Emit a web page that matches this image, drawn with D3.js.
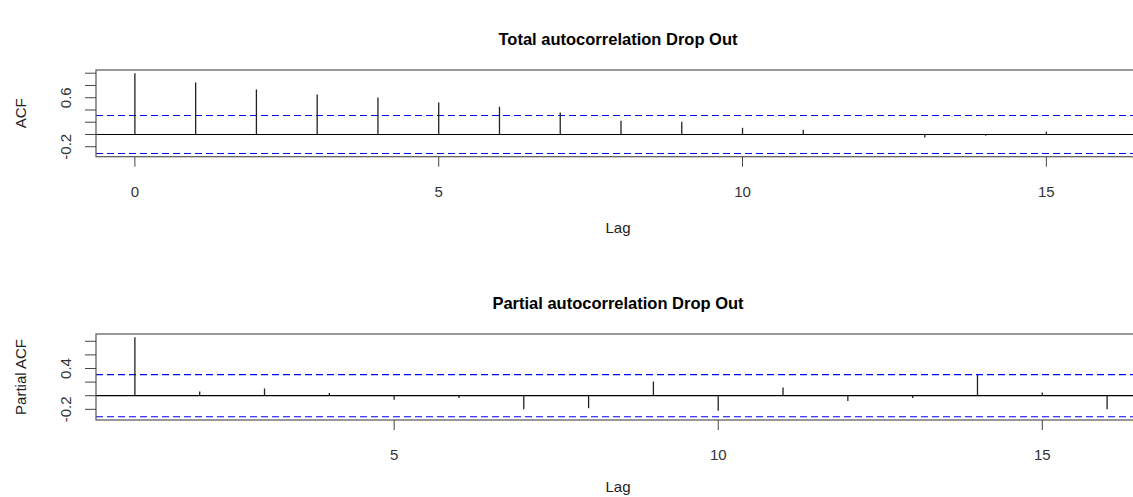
<!DOCTYPE html>
<html>
<head>
<meta charset="utf-8">
<script src="https://cdn.jsdelivr.net/npm/d3@7"></script>
<style>
  body { margin: 0; background: #fff; }
  text { font-family: "Liberation Sans", Arial, sans-serif; }
</style>
</head>
<body>
<script>
// Dados
const acfLags = d3.range(0, 17);
const acfValues = [1.0, 0.85, 0.735, 0.652, 0.604, 0.522, 0.452, 0.359, 0.223, 0.207, 0.109, 0.077, 0.004, -0.049, -0.02, 0.049, -0.005];
const pacfLags = d3.range(1, 17);
const pacfValues = [0.86, 0.063, 0.106, 0.039, -0.06, -0.034, -0.198, -0.184, 0.208, -0.222, 0.121, -0.077, -0.034, 0.304, 0.048, -0.198];
const ci = 0.31;

const acfXTicks = [0, 5, 10, 15];
const acfYTicks = [-0.2, 0, 0.2, 0.4, 0.6, 0.8, 1.0];
const acfYLabels = [-0.2, 0.6];
const pacfXTicks = [5, 10, 15];
const pacfYTicks = [-0.2, 0, 0.2, 0.4, 0.6, 0.8];
const pacfYLabels = [-0.2, 0.4];

const svg = d3.select("body").append("svg")
    .attr("width", 1133)
    .attr("height", 497);

// desenha um painel estilo R
function panel(opts) {
    const lags = opts.lags, vals = opts.values;
    const lo = Math.min(-ci, d3.min(vals)), hi = Math.max(ci, d3.max(vals));
    const lmin = d3.min(lags), lmax = d3.max(lags);
    const lpad = (lmax - lmin) * 0.04, vpad = (hi - lo) * 0.04;

    const x = d3.scaleLinear().domain([lmin - lpad, lmax + lpad]).range([96, 1146]);
    const y = d3.scaleLinear().domain([lo - vpad, hi + vpad]).range([opts.bottom, opts.top]);

    const g = svg.append("g");

    // linhas de confiança
    [ci, -ci].forEach(c => {
        g.append("line")
            .attr("x1", 96).attr("x2", 1146)
            .attr("y1", y(c)).attr("y2", y(c))
            .attr("stroke", "#0000ff")
            .attr("stroke-width", 1.1)
            .attr("stroke-dasharray", "7,4");
    });

    // linha zero
    g.append("line")
        .attr("x1", 96).attr("x2", 1146)
        .attr("y1", y(0)).attr("y2", y(0))
        .attr("stroke", "#000")
        .attr("stroke-width", 1.2);

    // barras
    g.selectAll(".bar").data(lags).enter().append("line")
        .attr("x1", d => x(d)).attr("x2", d => x(d))
        .attr("y1", y(0))
        .attr("y2", (d, i) => y(vals[i]))
        .attr("stroke", "#222")
        .attr("stroke-width", 1.3);

    // caixa
    g.append("rect")
        .attr("x", 96).attr("y", opts.top)
        .attr("width", 1050).attr("height", opts.bottom - opts.top)
        .attr("fill", "none")
        .attr("stroke", "#555")
        .attr("stroke-width", 1.2);

    // eixo x
    opts.xTicks.forEach(t => {
        g.append("line")
            .attr("x1", x(t)).attr("x2", x(t))
            .attr("y1", opts.bottom).attr("y2", opts.bottom + 10)
            .attr("stroke", "#444");
        g.append("text")
            .attr("x", x(t)).attr("y", opts.bottom + 40)
            .attr("text-anchor", "middle")
            .attr("font-size", 15)
            .attr("fill", "#333")
            .text(t);
    });

    // eixo y
    opts.yTicks.forEach(t => {
        g.append("line")
            .attr("x1", 85).attr("x2", 96)
            .attr("y1", y(t)).attr("y2", y(t))
            .attr("stroke", "#444");
    });
    opts.yLabels.forEach(t => {
        g.append("text")
            .attr("transform", `translate(71,${y(t)}) rotate(-90)`)
            .attr("text-anchor", "middle")
            .attr("font-size", 15)
            .attr("fill", "#333")
            .text(d3.format(".1f")(t).replace("−", "-"));
    });

    // títulos
    g.append("text")
        .attr("x", 618).attr("y", opts.top - 25)
        .attr("text-anchor", "middle")
        .attr("font-size", 16.5)
        .attr("font-weight", "bold")
        .attr("fill", "#000")
        .text(opts.title);

    g.append("text")
        .attr("x", 618).attr("y", opts.lagY)
        .attr("text-anchor", "middle")
        .attr("font-size", 15)
        .attr("fill", "#222")
        .text("Lag");

    g.append("text")
        .attr("transform", `translate(26,${(opts.top + opts.bottom) / 2}) rotate(-90)`)
        .attr("text-anchor", "middle")
        .attr("font-size", 15)
        .attr("fill", "#222")
        .text(opts.ylab);
}

panel({
    lags: acfLags, values: acfValues, top: 70, bottom: 156.7, lagY: 233,
    xTicks: acfXTicks, yTicks: acfYTicks, yLabels: acfYLabels,
    title: "Total autocorrelation Drop Out", ylab: "ACF"
});

panel({
    lags: pacfLags, values: pacfValues, top: 334, bottom: 420, lagY: 492,
    xTicks: pacfXTicks, yTicks: pacfYTicks, yLabels: pacfYLabels,
    title: "Partial autocorrelation Drop Out", ylab: "Partial ACF"
});
</script>
</body>
</html>
